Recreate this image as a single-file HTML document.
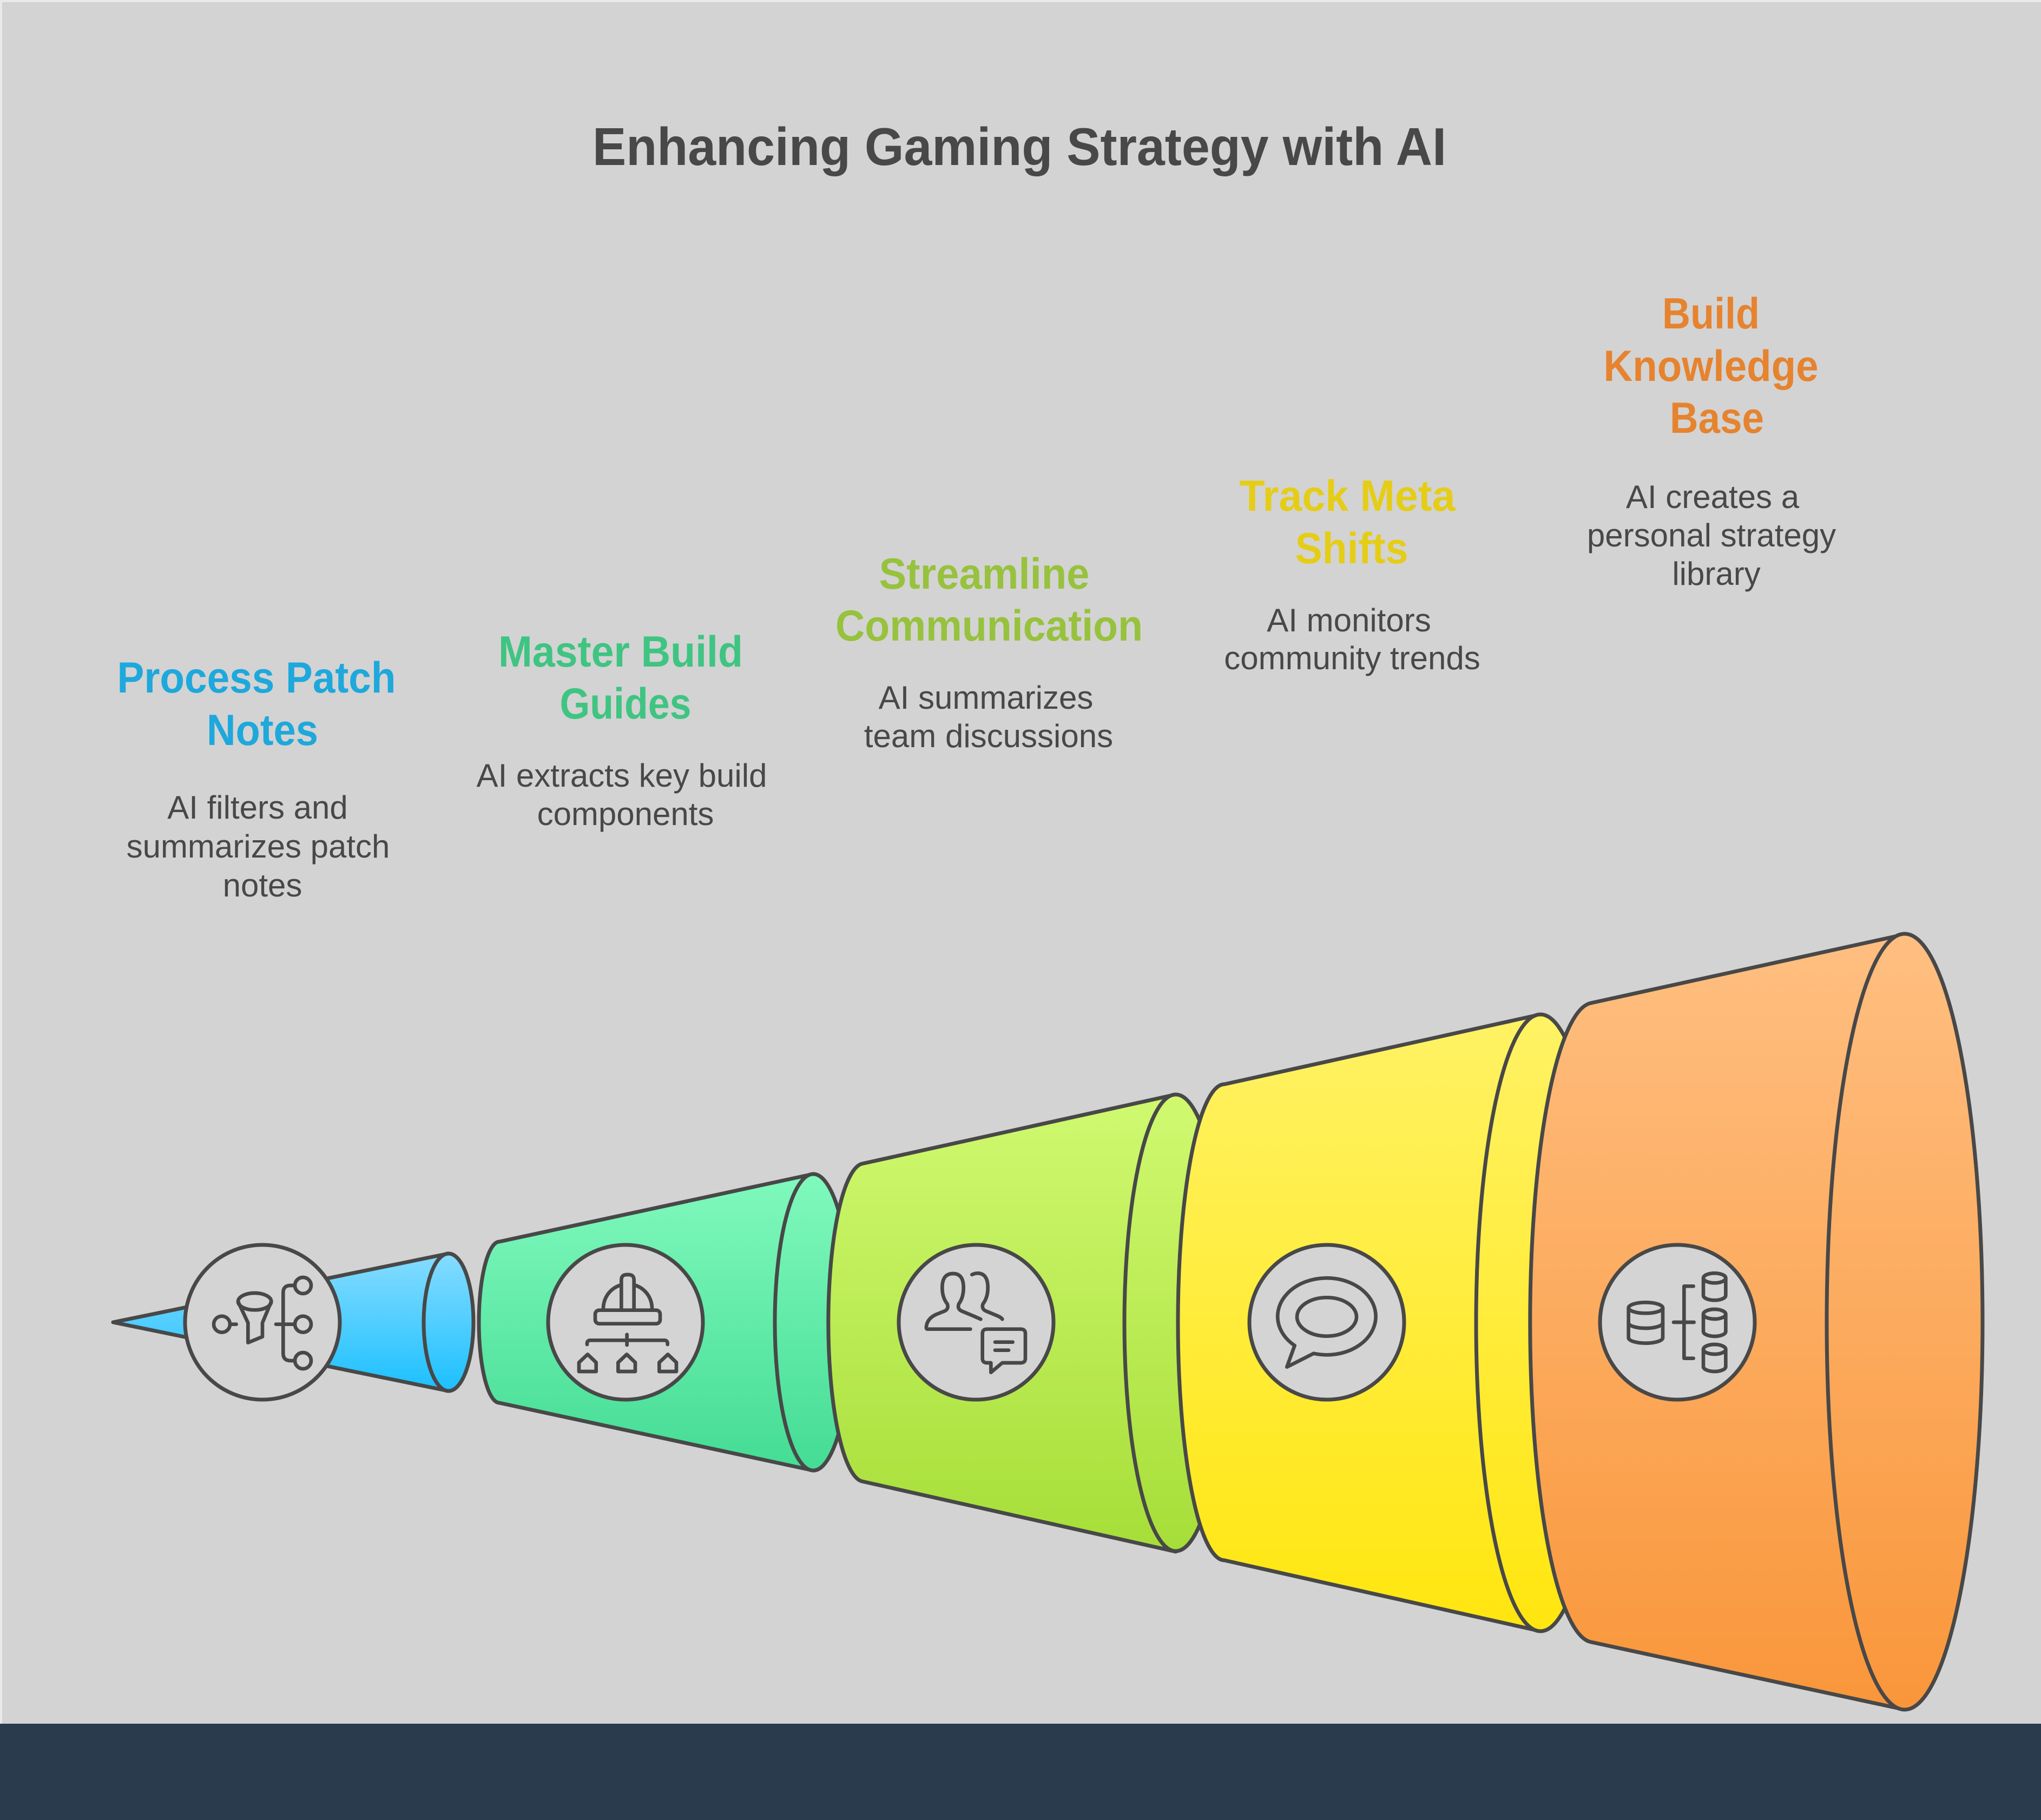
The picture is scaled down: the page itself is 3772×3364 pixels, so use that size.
<!DOCTYPE html>
<html>
<head>
<meta charset="utf-8">
<style>
  html, body { margin: 0; padding: 0; background: #d3d3d3; }
  svg { display: block; }
  .h { font-family: "Liberation Sans", Arial, sans-serif; font-weight: bold; font-size: 81px; }
  .d { font-family: "Liberation Sans", Arial, sans-serif; font-size: 60px; fill: #484848; }
</style>
</head>
<body>
<svg width="3772" height="3364" viewBox="0 0 3772 3364" xmlns="http://www.w3.org/2000/svg">
  <defs>
    <linearGradient id="g1" gradientUnits="userSpaceOnUse" x1="0" y1="2317" x2="0" y2="2571">
      <stop offset="0" stop-color="#86dcff"/>
      <stop offset="1" stop-color="#1cc0ff"/>
    </linearGradient>
    <linearGradient id="g2" gradientUnits="userSpaceOnUse" x1="0" y1="2170" x2="0" y2="2718">
      <stop offset="0" stop-color="#80f9bd"/>
      <stop offset="1" stop-color="#44dc94"/>
    </linearGradient>
    <linearGradient id="g3" gradientUnits="userSpaceOnUse" x1="0" y1="2023" x2="0" y2="2868">
      <stop offset="0" stop-color="#d0f970"/>
      <stop offset="1" stop-color="#a6de38"/>
    </linearGradient>
    <linearGradient id="g4" gradientUnits="userSpaceOnUse" x1="0" y1="1875" x2="0" y2="3015">
      <stop offset="0" stop-color="#fff265"/>
      <stop offset="1" stop-color="#ffe60f"/>
    </linearGradient>
    <linearGradient id="g5" gradientUnits="userSpaceOnUse" x1="0" y1="1726" x2="0" y2="3160">
      <stop offset="0" stop-color="#ffbf81"/>
      <stop offset="1" stop-color="#f9963a"/>
    </linearGradient>
  </defs>

  <!-- background -->
  <rect x="0" y="0" width="3772" height="3364" fill="#d3d3d3"/>
  <rect x="0" y="0" width="3772" height="4" fill="#e9e9e9"/>
  <rect x="0" y="0" width="4" height="3186" fill="#e9e9e9"/>
  <rect x="0" y="3186" width="3772" height="178" fill="#2b3b4e"/>

  <!-- title -->
  <text x="1884" y="305" text-anchor="middle" textLength="1578" lengthAdjust="spacingAndGlyphs"
        style="font-family:'Liberation Sans', Arial, sans-serif;font-weight:bold;font-size:98px;fill:#484848;">Enhancing Gaming Strategy with AI</text>

  <!-- headings -->
  <g class="h">
    <text x="474" y="1280" text-anchor="middle" textLength="515" lengthAdjust="spacingAndGlyphs" fill="#1ea8dc">Process Patch</text>
    <text x="485" y="1377" text-anchor="middle" textLength="206" lengthAdjust="spacingAndGlyphs" fill="#1ea8dc">Notes</text>

    <text x="1147" y="1232" text-anchor="middle" textLength="452" lengthAdjust="spacingAndGlyphs" fill="#3fc482">Master Build</text>
    <text x="1156" y="1328" text-anchor="middle" textLength="243" lengthAdjust="spacingAndGlyphs" fill="#3fc482">Guides</text>

    <text x="1819" y="1088" text-anchor="middle" textLength="389" lengthAdjust="spacingAndGlyphs" fill="#97c23d">Streamline</text>
    <text x="1828" y="1184" text-anchor="middle" textLength="568" lengthAdjust="spacingAndGlyphs" fill="#97c23d">Communication</text>

    <text x="2490" y="944" text-anchor="middle" textLength="399" lengthAdjust="spacingAndGlyphs" fill="#e5cd17">Track Meta</text>
    <text x="2498" y="1041" text-anchor="middle" textLength="209" lengthAdjust="spacingAndGlyphs" fill="#e5cd17">Shifts</text>

    <text x="3162" y="607" text-anchor="middle" textLength="180" lengthAdjust="spacingAndGlyphs" fill="#e6832f">Build</text>
    <text x="3162" y="704" text-anchor="middle" textLength="397" lengthAdjust="spacingAndGlyphs" fill="#e6832f">Knowledge</text>
    <text x="3173" y="800" text-anchor="middle" textLength="174" lengthAdjust="spacingAndGlyphs" fill="#e6832f">Base</text>
  </g>

  <!-- descriptions -->
  <g class="d" text-anchor="middle">
    <text x="476" y="1513">AI filters and</text>
    <text x="477" y="1585">summarizes patch</text>
    <text x="485" y="1657">notes</text>

    <text x="1149" y="1454">AI extracts key build</text>
    <text x="1156" y="1525">components</text>

    <text x="1822" y="1310">AI summarizes</text>
    <text x="1827" y="1381">team discussions</text>

    <text x="2493" y="1167">AI monitors</text>
    <text x="2499" y="1237">community trends</text>

    <text x="3165" y="939">AI creates a</text>
    <text x="3163" y="1010">personal strategy</text>
    <text x="3172" y="1081">library</text>
  </g>

  <!-- segments -->
  <g stroke="#484848" stroke-width="7" stroke-linejoin="round">
    <!-- seg1 -->
    <path d="M209,2444 L829,2317 L829,2571 Z" fill="url(#g1)"/>
    <ellipse cx="829" cy="2444" rx="46" ry="127" fill="url(#g1)"/>

    <!-- seg2 -->
    <path d="M923,2295 L1503,2170 L1503,2718 L923,2593 A38 149 0 0 1 923,2295 Z" fill="url(#g2)"/>
    <ellipse cx="1503" cy="2444" rx="71" ry="274" fill="url(#g2)"/>

    <!-- seg3 -->
    <path d="M1593,2151 L2173,2023 L2173,2868 L1593,2738 A66 294 0 0 1 1593,2151 Z" fill="url(#g3)"/>
    <ellipse cx="2173" cy="2445" rx="95" ry="422" fill="url(#g3)"/>

    <!-- seg4 -->
    <path d="M2263,2004 L2847,1875 L2847,3015 L2263,2884 A86 440 0 0 1 2263,2004 Z" fill="url(#g4)"/>
    <ellipse cx="2847" cy="2445" rx="119" ry="570" fill="url(#g4)"/>

    <!-- seg5 -->
    <path d="M2940,1854 L3520,1727 L3520,3160 L2940,3035 A117 591 0 0 1 2940,1854 Z" fill="url(#g5)"/>
    <ellipse cx="3520" cy="2443" rx="144" ry="717" fill="url(#g5)"/>
  </g>

  <!-- icon circles -->
  <g fill="#d4d4d4" stroke="#484848" stroke-width="7">
    <circle cx="485" cy="2444" r="143"/>
    <circle cx="1156" cy="2444" r="143"/>
    <circle cx="1804" cy="2444" r="143"/>
    <circle cx="2452" cy="2444" r="143"/>
    <circle cx="3100" cy="2444" r="143"/>
  </g>

  <!-- icon 1: funnel + tree -->
  <g transform="translate(485,2444) scale(0.33333) translate(-495,-522)" fill="none" stroke="#484848" stroke-width="20" stroke-linecap="round" stroke-linejoin="round">
    <circle cx="270" cy="533" r="45"/>
    <path d="M315,533 H350"/>
    <ellipse cx="452" cy="407" rx="92" ry="47"/>
    <path d="M362,412 L415,525 L415,635 L495,602 L495,525 L542,412"/>
    <path d="M570,533 H673"/>
    <path d="M673,318 H650 Q610,318 610,358 V695 Q610,735 650,735 H673"/>
    <circle cx="720" cy="318" r="45"/>
    <circle cx="720" cy="533" r="45"/>
    <circle cx="720" cy="735" r="45"/>
  </g>

  <!-- icon 2: helmet + hierarchy -->
  <g transform="translate(1156,2444) scale(0.33333) translate(-513,-522)" fill="none" stroke="#484848" stroke-width="20" stroke-linecap="round" stroke-linejoin="round">
    <path d="M390,445 A135 135 0 0 1 660,445"/>
    <path d="M490,445 V288 Q490,258 520,258 H530 Q560,258 560,288 V445" fill="#d4d4d4"/>
    <rect x="345" y="455" width="360" height="75" rx="22" fill="#d4d4d4"/>
    <path d="M300,645 V640 Q300,622 318,622 H728 Q746,622 746,640 V645"/>
    <path d="M521,590 V648"/>
    <path d="M255,795 V745 L303,700 L350,745 V795 Z"/>
    <path d="M472,795 V745 L520,700 L567,745 V795 Z"/>
    <path d="M700,795 V745 L748,700 L795,745 V795 Z"/>
  </g>

  <!-- icon 3: people + chat -->
  <g transform="translate(1804,2444) scale(0.33333) translate(-510,-522)" fill="none" stroke="#484848" stroke-width="20" stroke-linecap="round" stroke-linejoin="round">
    <path d="M478,560 H240 Q232,560 234,545 Q240,500 290,478 L335,460 Q360,448 350,420 Q322,385 322,330 Q322,252 382,252 Q440,252 440,330 Q440,385 414,420 Q404,448 430,460 L490,485 Q525,500 535,505"/>
    <path d="M487,258 Q503,250 520,250 Q575,252 575,330 Q575,385 548,420 Q538,448 565,460 L620,483 Q650,495 655,505"/>
    <path d="M570,560 H758 Q783,560 783,585 V722 Q783,747 758,747 H655 L592,800 V747 H570 Q545,747 545,722 V585 Q545,560 570,560 Z"/>
    <path d="M615,632 H713"/>
    <path d="M615,677 H690"/>
  </g>

  <!-- icon 4: speech bubble -->
  <g transform="translate(2452,2444) scale(0.33333) translate(-513,-522)" fill="none" stroke="#484848" stroke-width="20" stroke-linecap="round" stroke-linejoin="round">
    <path d="M440,695 A272 213 0 1 0 335,651 L292,770 Z"/>
    <ellipse cx="513" cy="492" rx="165" ry="107"/>
  </g>

  <!-- icon 5: databases -->
  <g transform="translate(3100,2444) scale(0.33333) translate(-516,-522)" fill="none" stroke="#484848" stroke-width="20" stroke-linecap="round" stroke-linejoin="round">
    <ellipse cx="340" cy="442" rx="95" ry="30"/>
    <path d="M245,442 V608 A95 30 0 0 0 435,608 V442"/>
    <path d="M245,525 A95 30 0 0 0 435,525"/>
    <path d="M495,522 H608"/>
    <path d="M605,322 H553 V722 H605"/>
    <ellipse cx="722" cy="277" rx="62" ry="27"/>
    <path d="M660,277 V373 A62 27 0 0 0 784,373 V277"/>
    <ellipse cx="722" cy="477" rx="62" ry="27"/>
    <path d="M660,477 V573 A62 27 0 0 0 784,573 V477"/>
    <ellipse cx="722" cy="672" rx="62" ry="27"/>
    <path d="M660,672 V768 A62 27 0 0 0 784,768 V672"/>
  </g>
</svg>
</body>
</html>
